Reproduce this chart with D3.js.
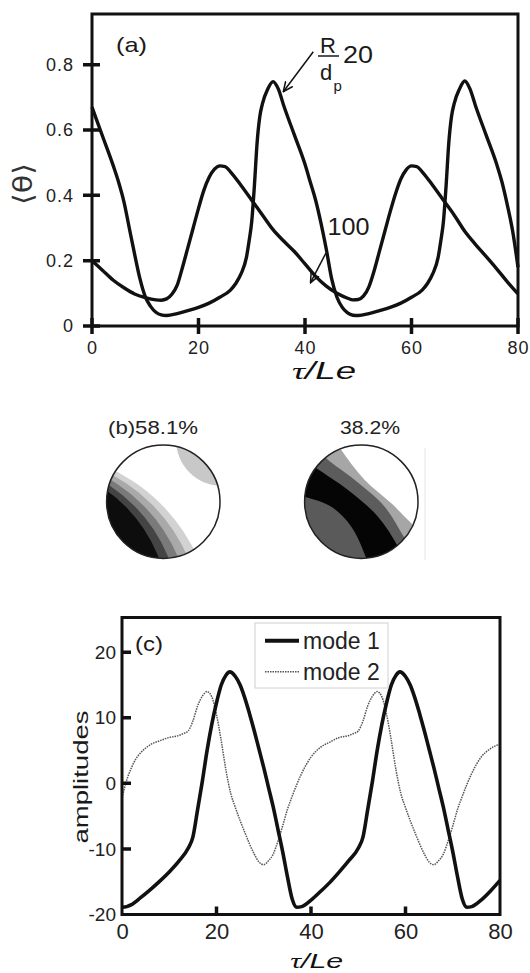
<!DOCTYPE html>
<html>
<head>
<meta charset="utf-8">
<script src="https://cdn.jsdelivr.net/npm/d3@7"></script>
<style>
	body { margin: 0; background: #fff; }
	svg { display: block; font-family: "Liberation Sans", Arial, sans-serif; }
</style>
</head>
<body>
<svg id="fig" width="530" height="973"></svg>
<script>
// panel (a): mean temperature against tau/Le, for R/dp = 20 and 100
const theta20 = [
	[0,0.67],[2,0.58],[4,0.49],[5,0.44],[6,0.38],[7,0.3],[8,0.22],[9,0.145],[10,0.09],[11,0.06],
	[12,0.042],[13,0.034],[14,0.032],[16,0.038],[18,0.047],[20,0.057],[22,0.07],[24,0.088],[26,0.11],
	[27,0.13],[28,0.16],[29,0.21],[29.5,0.26],[30,0.32],[30.5,0.43],[31,0.56],[31.5,0.64],[32,0.68],
	[33,0.725],[34,0.748],[35,0.725],[36,0.675],[38,0.585],[40,0.495],[41,0.44],[42,0.385],[43,0.315],
	[44,0.235],[45,0.145],[46,0.088],[47,0.057],[48,0.04],[49,0.033],[50,0.032],[52,0.038],[54,0.047],
	[56,0.057],[58,0.07],[60,0.088],[62,0.11],[63,0.13],[64,0.16],[65,0.21],[65.5,0.26],[66,0.32],
	[66.5,0.43],[67,0.56],[67.5,0.64],[68,0.68],[69,0.725],[70,0.75],[71,0.725],[72,0.675],[74,0.585],
	[76,0.495],[77,0.44],[78,0.37],[79,0.29],[80,0.18]
];
const theta100 = [
	[0,0.2],[2,0.17],[4,0.14],[6,0.117],[8,0.098],[10,0.087],[12,0.08],[13,0.079],[14,0.083],[15,0.097],
	[16,0.125],[17,0.18],[18,0.24],[19,0.3],[20,0.36],[21,0.415],[22,0.455],[23,0.48],[24,0.49],
	[25,0.488],[26,0.472],[28,0.43],[30,0.385],[32,0.34],[34,0.295],[36,0.26],[38,0.228],[40,0.19],
	[42,0.152],[44,0.122],[46,0.1],[48,0.085],[49,0.08],[50,0.081],[51,0.092],[52,0.12],[53,0.17],
	[54,0.23],[55,0.29],[56,0.35],[57,0.405],[58,0.45],[59,0.478],[60,0.49],[61,0.488],[62,0.472],
	[64,0.43],[66,0.385],[68,0.34],[70,0.29],[72,0.25],[74,0.213],[76,0.175],[78,0.135],[80,0.098]
];
const thetaTicks = [0, 0.2, 0.4, 0.6, 0.8];
const tauTicks = [0, 20, 40, 60, 80];

// panel (b): the two POD modes and their energy share
const modeShares = ["(b)58.1%", "38.2%"];

// panel (c): amplitudes of mode 1 and mode 2
const mode1 = [
	[0,-18.9],[1,-18.8],[2,-18.5],[4,-17.4],[6,-16.2],[8,-14.9],[10,-13.5],[12,-11.9],[14,-9.9],
	[15,-8.2],[16,-4],[17,0.3],[18,5],[19,9],[20,12.3],[21,15],[22,16.5],[22.8,17],[24,16.3],[25,15],
	[26,13],[27,10.6],[28,8],[29,5.2],[30,2.4],[31,-0.6],[32,-3.6],[33,-7],[34,-10.4],[35,-14.2],
	[36,-17.6],[37,-18.9],[38,-18.8],[40,-17.8],[42,-16.5],[44,-15.1],[46,-13.5],[48,-11.8],[50,-9.9],
	[51,-8.2],[52,-4],[53,0.3],[54,5],[55,9],[56,12.3],[57,15],[58,16.5],[58.8,17],[60,16.3],[61,15],
	[62,13],[63,10.6],[64,8],[65,5.2],[66,2.4],[67,-0.6],[68,-3.6],[69,-7],[70,-10.4],[71,-14.2],
	[72,-17.6],[73,-18.9],[74,-18.8],[76,-17.8],[78,-16.4],[80,-14.8]
];
const mode2 = [
	[0,-2.2],[1,0.5],[2,2.4],[3,3.8],[4,4.7],[6,5.9],[8,6.5],[10,7],[12,7.3],[13,7.6],[14,8],
	[15,9.5],[16,11.8],[17,13.3],[18,14],[19,13.2],[20,10.5],[21,6.5],[22,2],[23,-1.5],[24,-3.7],
	[26,-7.5],[28,-10.8],[29,-12],[30,-12.4],[31,-11.8],[32,-10.8],[33,-8.8],[34,-6.5],[35,-4],
	[36,-2],[38,1.5],[40,4],[42,5.5],[44,6.3],[46,7],[48,7.3],[49,7.6],[50,8],[51,9.5],[52,11.8],
	[53,13.3],[54,14],[55,13.2],[56,10.5],[57,6.5],[58,2],[59,-1.5],[60,-3.7],[62,-7.5],[64,-10.8],
	[65,-12],[66,-12.4],[67,-11.8],[68,-10.8],[69,-8.8],[70,-6.5],[71,-4],[72,-2],[74,1.5],[76,4],
	[78,5.3],[80,6]
];
const ampTicks = [-20, -10, 0, 10, 20];
const legendLabels = ["mode 1", "mode 2"];

const ink = "#111";
const svg = d3.select("#fig");

// open arrow head used by the annotations
svg.append("defs").append("marker")
	.attr("id", "arrow")
	.attr("viewBox", "0 0 10 10")
	.attr("refX", 9).attr("refY", 5)
	.attr("markerWidth", 11).attr("markerHeight", 11)
	.attr("markerUnits", "userSpaceOnUse")
	.attr("orient", "auto")
	.append("path")
	.attr("d", "M0,1 L9,5 L0,9")
	.attr("fill", "none")
	.attr("stroke", ink)
	.attr("stroke-width", 1.4);

function label(g, x, y, str, size, opts) {
	opts = opts || {};
	const t = g.append("text")
		.attr("transform", `translate(${x},${y})` + (opts.rotate ? ` rotate(${opts.rotate})` : ""))
		.attr("font-size", size)
		.attr("fill", opts.fill || "#1a1a1a")
		.attr("text-anchor", opts.anchor || "start")
		.text(str);
	if (opts.family) t.attr("font-family", opts.family);
	if (opts.length) t.attr("textLength", opts.length).attr("lengthAdjust", "spacingAndGlyphs");
	return t;
};

function tauLabel(g, x, y, size, len) {
	const t = g.append("text")
		.attr("transform", `translate(${x},${y})`)
		.attr("font-size", size)
		.attr("font-style", "italic")
		.attr("text-anchor", "middle")
		.attr("fill", ink)
		.attr("textLength", len)
		.attr("lengthAdjust", "spacingAndGlyphs");
	t.append("tspan").attr("font-family", "Liberation Serif").text("τ");
	t.append("tspan").text("/Le");
};

// tick marks as one path built from the scale, a = [from, to] across the axis
function ticks(g, scale, at, values, a, vertical) {
	const d = values.map(v => vertical
		? `M${scale(v)},${at + a[0]}V${at + a[1]}`
		: `M${at + a[0]},${scale(v)}H${at + a[1]}`).join("");
	g.append("path")
		.attr("d", d)
		.attr("fill", "none")
		.attr("stroke", ink)
		.attr("stroke-width", 3.5);
};

function tidy(g, size) {
	g.select(".domain").remove();
	g.selectAll(".tick line").remove();
	g.attr("font-family", null).attr("font-size", null);
	g.selectAll(".tick text").attr("font-size", size).attr("fill", "#222");
};

// ---------- (a)
const xA = d3.scaleLinear().domain([0, 80]).range([92, 518]);
const yA = d3.scaleLinear().domain([0, 0.955]).range([326, 14]);
const gA = svg.append("g");

const lineA = d3.line()
	.x(d => xA(d[0]))
	.y(d => yA(d[1]))
	.curve(d3.curveMonotoneX);

for (let s of [theta20, theta100])
	gA.append("path")
		.attr("d", lineA(s))
		.attr("fill", "none")
		.attr("stroke", ink)
		.attr("stroke-width", 3.4)
		.attr("stroke-linejoin", "round");

gA.append("rect")
	.attr("x", xA(0)).attr("y", yA(0.955))
	.attr("width", xA(80) - xA(0)).attr("height", yA(0) - yA(0.955))
	.attr("fill", "none").attr("stroke", ink).attr("stroke-width", 3);

gA.append("g")
	.attr("transform", `translate(0,${yA(0)})`)
	.call(d3.axisBottom(xA).tickValues(tauTicks).tickSize(0).tickPadding(15))
	.call(g => tidy(g, 18))
	.call(g => g.selectAll(".tick text").attr("letter-spacing", 1));

gA.append("g")
	.attr("transform", `translate(${xA(0)},0)`)
	.call(d3.axisLeft(yA).tickValues(thetaTicks).tickFormat(d3.format("~g")).tickSize(0).tickPadding(18))
	.call(g => tidy(g, 18))
	.call(g => g.selectAll(".tick text").attr("letter-spacing", 1));

ticks(gA, xA, yA(0), tauTicks, [-8, 8], true);
ticks(gA, yA, xA(0), thetaTicks, [-9, 8], false);

label(gA, 116, 52, "(a)", 21, { length: 31 });
tauLabel(gA, 324, 378.5, 23, 64);
label(gA, 32, 184, "⟨θ⟩", 27, { rotate: -90, anchor: "middle", family: "DejaVu Sans", length: 42, fill: "#333" });

// R/dp annotations
label(gA, 320, 53.3, "R", 22);
gA.append("line").attr("x1", 318).attr("x2", 339).attr("y1", 56).attr("y2", 56).attr("stroke", "#1a1a1a").attr("stroke-width", 1.5);
label(gA, 320, 79.5, "d", 22);
label(gA, 333.5, 91, "p", 15);
label(gA, 343, 63.3, "20", 24, { length: 30 });
label(gA, 327.5, 235, "100", 24, { length: 42 });

for (let a of [[313.3, 51.7, 283.3, 91.7], [325.8, 253.3, 310.5, 282.7]])
	gA.append("line")
		.attr("x1", a[0]).attr("y1", a[1]).attr("x2", a[2]).attr("y2", a[3])
		.attr("stroke", ink).attr("stroke-width", 1.5)
		.attr("marker-end", "url(#arrow)");

// ---------- (b)
const gB = svg.append("g");
const discR = 56.7;
const discs = [[163.3, 501.7], [361.3, 501.7]];

label(gB, 108, 434, modeShares[0], 18, { length: 90, fill: "#222" });
label(gB, 340, 434, modeShares[1], 18, { length: 60, fill: "#222" });

gB.append("line").attr("x1", 425).attr("x2", 425).attr("y1", 448).attr("y2", 560).attr("stroke", "#e4e4e4");

discs.forEach((c, i) => {
	const clip = gB.append("clipPath").attr("id", `disc-${i}`);
	clip.append("circle").attr("r", discR);

	const g = gB.append("g").attr("transform", `translate(${c[0]},${c[1]})`);
	const inner = g.append("g").attr("clip-path", `url(#disc-${i})`);
	inner.append("circle").attr("r", discR).attr("fill", "#fff");

	if (i === 0) {
		inner.append("circle").attr("cx", 58.7).attr("cy", -61.7).attr("r", 46).attr("fill", "#c8c8c8");
		// contour levels as big arcs centred far to the lower left
		const rings = [
			[-128.6, 128.5, 178.5, "#d2d2d2"],
			[-132.1, 123.7, 170.9, "#a9a9a9"],
			[-135.7, 118.9, 163.3, "#7a7a7a"],
			[-139.2, 114.0, 155.6, "#444"],
			[-142.7, 109.2, 148.0, "#0d0d0d"]
		];
		for (let r of rings)
			inner.append("circle").attr("cx", r[0]).attr("cy", r[1]).attr("r", r[2]).attr("fill", r[3]);
	} else {
		const curve = d3.line().curve(d3.curveCatmullRom);
		const bands = [
			[[[-35,-75],[-20,-51.7],[3.4,-21.7],[30,1.6],[50,21.6],[70,40]], "#a6a6a6"],
			[[[-50,-60],[-35,-43.4],[-6.6,-21.7],[23.4,5],[43.4,36.6],[58,60]], "#5c5c5c"],
			[[[-62,-45],[-45,-33.4],[-13.3,-11.7],[16.7,15],[36.7,45],[48,70]], "#050505"],
			[[[-75,-10],[-56.6,-5],[-30,5],[-10,25],[5,56.6],[12,80]], "#5a5a5a"]
		];
		for (let b of bands) {
			const p = b[0];
			const first = p[0], last = p[p.length - 1];
			inner.append("path")
				.attr("d", curve(p) + `L${last[0]},150L-150,150L-150,${first[1]}Z`)
				.attr("fill", b[1]);
		}
	}

	g.append("circle").attr("r", discR).attr("fill", "none").attr("stroke", "#222").attr("stroke-width", 1.5);
});

// ---------- (c)
const xC = d3.scaleLinear().domain([0, 80]).range([122, 500]);
const yC = d3.scaleLinear().domain([-20, 25.3]).range([914.5, 617.5]);
const gC = svg.append("g");

const lineC = d3.line()
	.x(d => xC(d[0]))
	.y(d => yC(d[1]))
	.curve(d3.curveMonotoneX);

gC.append("path")
	.attr("d", lineC(mode2))
	.attr("fill", "none")
	.attr("stroke", "#555")
	.attr("stroke-width", 1.5)
	.attr("stroke-dasharray", "1.5 1");

gC.append("path")
	.attr("d", lineC(mode1))
	.attr("fill", "none")
	.attr("stroke", ink)
	.attr("stroke-width", 3.6)
	.attr("stroke-linejoin", "round");

gC.append("rect")
	.attr("x", xC(0)).attr("y", yC(25.3))
	.attr("width", xC(80) - xC(0)).attr("height", yC(-20) - yC(25.3))
	.attr("fill", "none").attr("stroke", ink).attr("stroke-width", 3);

gC.append("g")
	.attr("transform", `translate(0,${yC(-20)})`)
	.call(d3.axisBottom(xC).tickValues(tauTicks).tickSize(0).tickPadding(9))
	.call(g => tidy(g, 22));

gC.append("g")
	.attr("transform", `translate(${xC(0)},0)`)
	.call(d3.axisLeft(yC).tickValues(ampTicks).tickFormat(d => String(d)).tickSize(0).tickPadding(6))
	.call(g => tidy(g, 19));

ticks(gC, xC, yC(-20), tauTicks.slice(1, -1), [-8, 0], true);
ticks(gC, yC, xC(0), ampTicks.slice(1), [0, 9], false);

label(gC, 135, 651, "(c)", 21, { length: 28 });
label(gC, 88, 777, "amplitudes", 20, { rotate: -90, anchor: "middle", length: 133 });
tauLabel(gC, 316.7, 968, 21, 53);

// legend
const leg = gC.append("g");
leg.append("rect")
	.attr("x", 255).attr("y", 623).attr("width", 133).attr("height", 65)
	.attr("fill", "#fff").attr("stroke", "#d0d0d0").attr("stroke-width", 1);
legendLabels.forEach((name, i) => {
	const y = 640.7 + i * 31;
	leg.append("line")
		.attr("x1", 265).attr("x2", 299).attr("y1", y).attr("y2", y)
		.attr("stroke", i ? "#555" : ink)
		.attr("stroke-width", i ? 1.5 : 4)
		.attr("stroke-dasharray", i ? "1.5 1" : null);
	label(leg, 303, y + 8, name, 23, { fill: "#222" });
});
</script>
</body>
</html>
